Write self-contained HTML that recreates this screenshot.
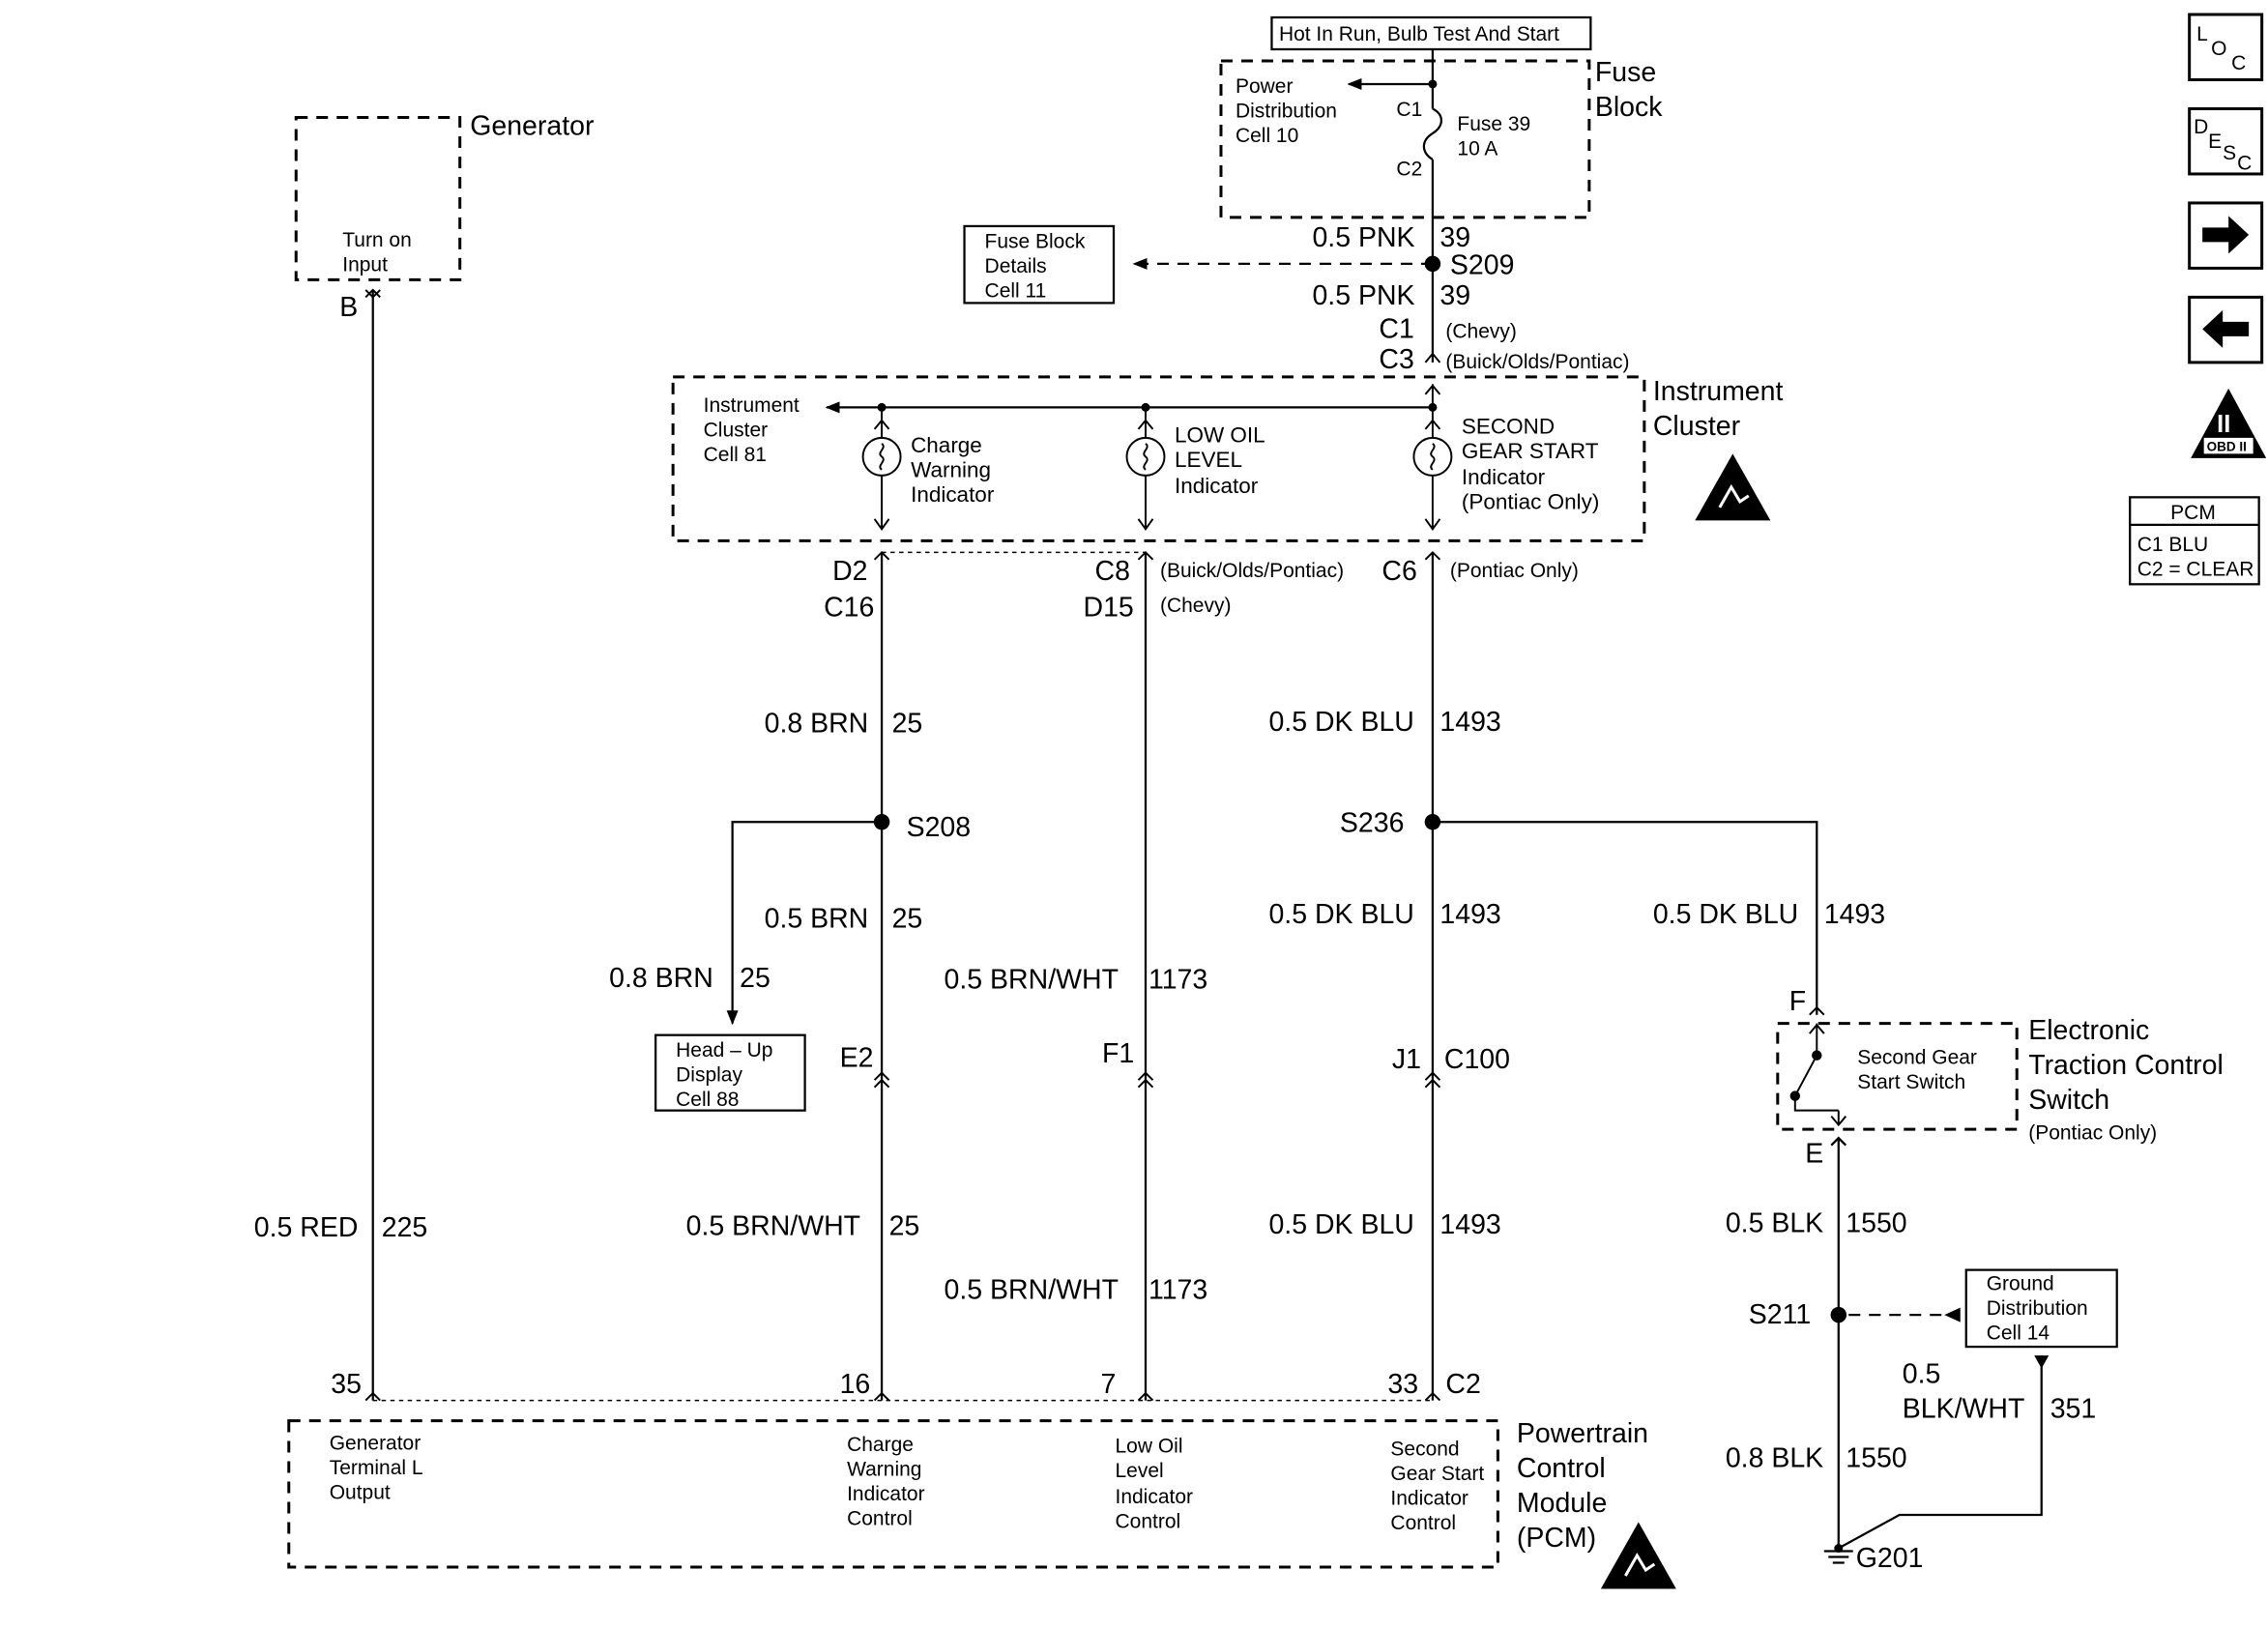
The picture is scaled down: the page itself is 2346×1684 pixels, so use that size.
<!DOCTYPE html>
<html><head><meta charset="utf-8"><style>
html,body{margin:0;padding:0;background:#fff}
svg{display:block}
text{font-family:"Liberation Sans",sans-serif;fill:#000}
.b{font-size:19px}.s{font-size:14px}.m{font-size:15px}
</style></head><body>
<svg width="2346" height="1684" viewBox="0 0 1564 1123" xmlns="http://www.w3.org/2000/svg">
<defs>
<marker id="ah" markerWidth="10" markerHeight="8" refX="9" refY="4" orient="auto" markerUnits="userSpaceOnUse"><path d="M0,0L10,4L0,8z" fill="#000"/></marker>
</defs>
<g fill="none" stroke="#000" stroke-width="2">
<rect x="877" y="12" width="220" height="22" stroke-width="1.5"/>
<rect x="842" y="42" width="254" height="108" stroke-dasharray="8,6"/>
<path d="M988,34V75M988,110V250" stroke-width="1.5"/>
<path d="M988,75c8,4 8,12 0,17c-8,5 -8,13 0,18" stroke-width="1.5"/>
<path d="M988,58H930" stroke-width="1.5" marker-end="url(#ah)"/>
<path d="M988,182H782" stroke-width="1.5" stroke-dasharray="8,6" marker-end="url(#ah)"/>
<rect x="665" y="156" width="103" height="53" stroke-width="1.5"/>
<path d="M983,250l5,-6l5,6" stroke-width="1.3"/>
<rect x="464" y="260" width="670" height="113" stroke-dasharray="8,6"/>
<path d="M988,281H570" stroke-width="1.5" marker-end="url(#ah)"/>
<path d="M988,281V265M983,272l5,-6l5,6" stroke-width="1.3"/>
<g stroke-width="1.3">
<path d="M608,281V302M608,328V365M603,358l5,7l5,-7M603,296l5,-6l5,6"/>
<circle cx="608" cy="315" r="13"/><path d="M608,306c4,3 -4,6 0,9c4,3 -4,6 0,9"/>
<path d="M790,281V302M790,328V365M785,358l5,7l5,-7M785,296l5,-6l5,6"/>
<circle cx="790" cy="315" r="13"/><path d="M790,306c4,3 -4,6 0,9c4,3 -4,6 0,9"/>
<path d="M988,281V302M988,328V365M983,358l5,7l5,-7M983,296l5,-6l5,6"/>
<circle cx="988" cy="315" r="13"/><path d="M988,306c4,3 -4,6 0,9c4,3 -4,6 0,9"/>
</g>
<path d="M608,381V966M790,381V966M988,381V966M257,200V966" stroke-width="1.5"/>
<path d="M603,386l5,-5l5,5M785,386l5,-5l5,5M983,386l5,-5l5,5M252,205l5,-5l5,5M252,200l5,5l5,-5" stroke-width="1.3"/>
<path d="M608,381H790" stroke-width="1" stroke-dasharray="3,3"/>
<path d="M257,966H988" stroke-width="1" stroke-dasharray="3,3"/>
<path d="M603,966l5,-5l5,5M785,966l5,-5l5,5M983,966l5,-5l5,5M252,966l5,-5l5,5" stroke-width="1.3"/>
<path d="M603,745l5,-5l5,5M603,750l5,-5l5,5M785,745l5,-5l5,5M785,750l5,-5l5,5M983,745l5,-5l5,5M983,750l5,-5l5,5" stroke-width="1.3"/>
<path d="M608,567H505V706" stroke-width="1.5" marker-end="url(#ah)"/>
<rect x="452" y="714" width="103" height="52" stroke-width="1.5"/>
<path d="M988,567H1253V700" stroke-width="1.5"/>
<path d="M1248,700l5,-5l5,5" stroke-width="1.3"/>
<rect x="1226" y="706" width="165" height="73" stroke-dasharray="8,6"/>
<path d="M1253,706V728M1253,728L1238,756M1238,756V766H1268M1268,766V775M1263,770l5,6l5,-6M1248,713l5,-6l5,6" stroke-width="1.3"/>
<circle cx="1253" cy="728" r="2.5" fill="#000"/><circle cx="1238" cy="756" r="2.5" fill="#000"/>
<path d="M1268,785V1068M1263,790l5,-5l5,5" stroke-width="1.5"/>
<path d="M1275,907H1340" stroke-width="1.5" stroke-dasharray="8,6"/>
<rect x="1356" y="876" width="104" height="53" stroke-width="1.5"/>
<path d="M1408,935V1045H1310L1268,1068" stroke-width="1.5"/>
<path d="M1403,935h10l-5,9z" fill="#000" stroke="none"/>
<path d="M1352,902v10l-11,-5z" fill="#000" stroke="none"/>
<path d="M1258,1070h20M1261,1074h14M1264,1078h8" stroke-width="1.5"/>
<rect x="204" y="81" width="113" height="112" stroke-dasharray="8,6"/>
<rect x="199" y="980" width="834" height="101" stroke-dasharray="8,6"/>
<rect x="1510" y="10" width="50" height="45" stroke-width="2"/>
<rect x="1510" y="75" width="50" height="45" stroke-width="2"/>
<rect x="1510" y="140" width="50" height="45" stroke-width="2"/>
<rect x="1510" y="205" width="50" height="45" stroke-width="2"/>
<rect x="1469" y="343" width="89" height="60" stroke-width="1.5"/>
<path d="M1469,362H1558" stroke-width="1.5"/>
</g>
<g fill="#000">
<circle cx="988" cy="58" r="3"/><circle cx="988" cy="182" r="5.5"/>
<circle cx="608" cy="281" r="3"/><circle cx="790" cy="281" r="3"/><circle cx="988" cy="281" r="3"/>
<circle cx="608" cy="567" r="5.5"/><circle cx="988" cy="567" r="5.5"/><circle cx="1268" cy="907" r="5.5"/>
<circle cx="1268" cy="1068" r="3"/>
<path d="M1519,157h18v-8l14,13l-14,13v-8h-18z"/>
<path d="M1551,222h-18v-8l-14,13l14,13v-8h18z"/>
<path d="M1537,268l26,48h-52z"/>
<path d="M1195,313l26,46h-52z"/>
<path d="M1130,1050l26,46h-52z"/>
</g>
<path d="M1186,350l8,-14l6,10l6,-4" stroke="#fff" stroke-width="2" fill="none"/>
<path d="M1121,1087l8,-14l6,10l6,-4" stroke="#fff" stroke-width="2" fill="none"/>
<rect x="1520" y="302" width="34" height="11" fill="#fff"/>
<text x="1522" y="311" style="font-size:9px;font-weight:bold">OBD II</text>
<text x="1529" y="298" style="font-size:17px;font-weight:bold;fill:#fff">II</text>
<text x="1515" y="28" class="s">L</text><text x="1525" y="38" class="s">O</text><text x="1539" y="48" class="s">C</text>
<text x="1513" y="92" class="s">D</text><text x="1523" y="102" class="s">E</text><text x="1533" y="110" class="s">S</text><text x="1543" y="117" class="s">C</text>
<text x="1497" y="358" class="s">PCM</text>
<text x="1474" y="380" class="s">C1    BLU</text>
<text x="1474" y="397" class="s">C2 = CLEAR</text>

<text x="882" y="28" class="s">Hot In Run, Bulb Test And Start</text>
<text x="1100" y="56" class="b">Fuse</text><text x="1100" y="80" class="b">Block</text>
<text x="852" y="64" class="s">Power</text><text x="852" y="81" class="s">Distribution</text><text x="852" y="98" class="s">Cell 10</text>
<text x="963" y="80" class="s">C1</text><text x="963" y="121" class="s">C2</text>
<text x="1005" y="90" class="s">Fuse 39</text><text x="1005" y="107" class="s">10 A</text>
<text x="905" y="170" class="b">0.5 PNK</text><text x="993" y="170" class="b">39</text>
<text x="1000" y="189" class="b">S209</text>
<text x="679" y="171" class="s">Fuse Block</text><text x="679" y="188" class="s">Details</text><text x="679" y="205" class="s">Cell 11</text>
<text x="905" y="210" class="b">0.5 PNK</text><text x="993" y="210" class="b">39</text>
<text x="951" y="233" class="b">C1</text><text x="997" y="233" class="s">(Chevy)</text>
<text x="951" y="254" class="b">C3</text><text x="997" y="254" class="s">(Buick/Olds/Pontiac)</text>
<text x="1140" y="276" class="b">Instrument</text><text x="1140" y="300" class="b">Cluster</text>
<text x="485" y="284" class="s">Instrument</text><text x="485" y="301" class="s">Cluster</text><text x="485" y="318" class="s">Cell 81</text>
<text x="628" y="312" class="m">Charge</text><text x="628" y="329" class="m">Warning</text><text x="628" y="346" class="m">Indicator</text>
<text x="810" y="305" class="m">LOW OIL</text><text x="810" y="322" class="m">LEVEL</text><text x="810" y="340" class="m">Indicator</text>
<text x="1008" y="299" class="m">SECOND</text><text x="1008" y="316" class="m">GEAR START</text><text x="1008" y="334" class="m">Indicator</text><text x="1008" y="351" class="m">(Pontiac Only)</text>
<text x="574" y="400" class="b">D2</text><text x="568" y="425" class="b">C16</text>
<text x="755" y="400" class="b">C8</text><text x="800" y="398" class="s">(Buick/Olds/Pontiac)</text>
<text x="747" y="425" class="b">D15</text><text x="800" y="422" class="s">(Chevy)</text>
<text x="953" y="400" class="b">C6</text><text x="1000" y="398" class="s">(Pontiac Only)</text>
<text x="527" y="505" class="b">0.8 BRN</text><text x="615" y="505" class="b">25</text>
<text x="875" y="504" class="b">0.5 DK BLU</text><text x="993" y="504" class="b">1493</text>
<text x="625" y="577" class="b">S208</text><text x="924" y="574" class="b">S236</text>
<text x="527" y="640" class="b">0.5 BRN</text><text x="615" y="640" class="b">25</text>
<text x="875" y="637" class="b">0.5 DK BLU</text><text x="993" y="637" class="b">1493</text>
<text x="1140" y="637" class="b">0.5 DK BLU</text><text x="1258" y="637" class="b">1493</text>
<text x="420" y="681" class="b">0.8 BRN</text><text x="510" y="681" class="b">25</text>
<text x="651" y="682" class="b">0.5 BRN/WHT</text><text x="792" y="682" class="b">1173</text>
<text x="466" y="729" class="s">Head – Up</text><text x="466" y="746" class="s">Display</text><text x="466" y="763" class="s">Cell 88</text>
<text x="1234" y="697" class="b">F</text>
<text x="1399" y="717" class="b">Electronic</text><text x="1399" y="741" class="b">Traction Control</text><text x="1399" y="765" class="b">Switch</text><text x="1399" y="786" class="s">(Pontiac Only)</text>
<text x="1281" y="734" class="s">Second Gear</text><text x="1281" y="751" class="s">Start Switch</text>
<text x="579" y="736" class="b">E2</text><text x="760" y="733" class="b">F1</text>
<text x="960" y="737" class="b">J1</text><text x="996" y="737" class="b">C100</text>
<text x="1245" y="802" class="b">E</text>
<text x="175" y="853" class="b">0.5 RED</text><text x="263" y="853" class="b">225</text>
<text x="473" y="852" class="b">0.5 BRN/WHT</text><text x="613" y="852" class="b">25</text>
<text x="875" y="851" class="b">0.5 DK BLU</text><text x="993" y="851" class="b">1493</text>
<text x="1190" y="850" class="b">0.5 BLK</text><text x="1273" y="850" class="b">1550</text>
<text x="651" y="896" class="b">0.5 BRN/WHT</text><text x="792" y="896" class="b">1173</text>
<text x="1206" y="913" class="b">S211</text>
<text x="1370" y="890" class="s">Ground</text><text x="1370" y="907" class="s">Distribution</text><text x="1370" y="924" class="s">Cell 14</text>
<text x="1312" y="954" class="b">0.5</text><text x="1312" y="978" class="b">BLK/WHT</text><text x="1414" y="978" class="b">351</text>
<text x="1190" y="1012" class="b">0.8 BLK</text><text x="1273" y="1012" class="b">1550</text>
<text x="1280" y="1081" class="b">G201</text>
<text x="324" y="93" class="b">Generator</text>
<text x="236" y="170" class="s">Turn on</text><text x="236" y="187" class="s">Input</text>
<text x="234" y="218" class="b">B</text>
<text x="228" y="961" class="b">35</text><text x="579" y="961" class="b">16</text><text x="759" y="961" class="b">7</text>
<text x="957" y="961" class="b">33</text><text x="997" y="961" class="b">C2</text>
<text x="227" y="1000" class="s">Generator</text><text x="227" y="1017" class="s">Terminal L</text><text x="227" y="1034" class="s">Output</text>
<text x="584" y="1001" class="s">Charge</text><text x="584" y="1018" class="s">Warning</text><text x="584" y="1035" class="s">Indicator</text><text x="584" y="1052" class="s">Control</text>
<text x="769" y="1002" class="s">Low Oil</text><text x="769" y="1019" class="s">Level</text><text x="769" y="1037" class="s">Indicator</text><text x="769" y="1054" class="s">Control</text>
<text x="959" y="1004" class="s">Second</text><text x="959" y="1021" class="s">Gear Start</text><text x="959" y="1038" class="s">Indicator</text><text x="959" y="1055" class="s">Control</text>
<text x="1046" y="995" class="b">Powertrain</text><text x="1046" y="1019" class="b">Control</text><text x="1046" y="1043" class="b">Module</text><text x="1046" y="1067" class="b">(PCM)</text>
</svg>
</body></html>
